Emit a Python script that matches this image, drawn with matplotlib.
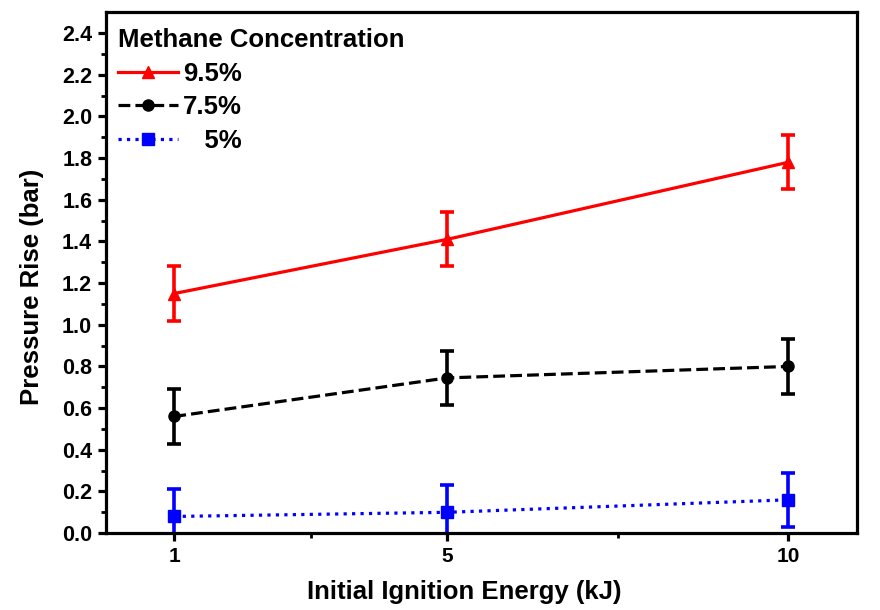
import matplotlib
matplotlib.use("Agg")
import matplotlib.pyplot as plt
from matplotlib.lines import Line2D
from matplotlib.ticker import FixedLocator

plt.rcParams['font.family'] = ['Liberation Sans', 'DejaVu Sans']
plt.rcParams['font.weight'] = 'bold'

# Initial ignition energy (kJ)
energy = [1, 5, 10]

# Pressure rise (bar) for each methane concentration
p_95 = [1.15, 1.41, 1.78]
p_75 = [0.56, 0.745, 0.80]
p_50 = [0.08, 0.10, 0.16]

# Error bar half-widths (bar)
err_95 = [0.13, 0.13, 0.13]
err_75 = [0.13, 0.13, 0.13]
err_50 = [0.13, 0.13, 0.13]

labels = ['9.5%', '7.5%', '   5%']
x_ticks = [1, 5, 10]
x_minor = [3, 7.5]

fig = plt.figure(figsize=(8.8, 6.1), dpi=100)
ax = fig.add_axes([0.1205, 0.126, 0.853, 0.854])

series = [
    (p_95, err_95, 'red', '-', '^', labels[0]),
    (p_75, err_75, 'black', '--', 'o', labels[1]),
    (p_50, err_50, 'blue', ':', 's', labels[2]),
]
handles = []
for vals, err, col, ls, mk, lab in series:
    ax.errorbar(energy, vals, yerr=err, color=col, ls=ls, lw=2.3,
                marker=mk, ms=8, mec=col, mfc=col,
                elinewidth=2.6, capsize=4.8, capthick=2.6)
    handles.append(Line2D([], [], color=col, ls=ls, lw=2.3, marker=mk,
                          ms=8, mec=col, mfc=col, label=lab))

ax.set_xlim(0, 11)
ax.set_ylim(0, 2.5)
ax.set_xticks(x_ticks)
ax.set_xticklabels([str(v) for v in x_ticks])
ax.xaxis.set_minor_locator(FixedLocator(x_minor))
ax.set_yticks([i * 0.2 for i in range(13)])
ax.set_yticklabels([f"{i * 0.2:.1f}" for i in range(13)])
ax.yaxis.set_minor_locator(FixedLocator([0.1 + i * 0.2 for i in range(12)]))

for s in ax.spines.values():
    s.set_linewidth(2.3)
ax.tick_params(axis='both', which='major', direction='out', length=6,
               width=2.3, labelsize=15, pad=4)
ax.tick_params(axis='y', which='major', labelsize=15.5)
ax.tick_params(axis='both', which='minor', direction='out', length=3.5,
               width=2.0)

ax.set_xlabel('Initial Ignition Energy (kJ)', fontsize=18.5, fontweight='bold',
              labelpad=10, x=0.477)
ax.set_ylabel('Pressure Rise (bar)', fontsize=18.5, fontweight='bold',
              labelpad=13, y=0.472)

leg = ax.legend(handles=handles, loc='upper left', bbox_to_anchor=(0.0, 0.992),
                title='Methane Concentration', frameon=False,
                fontsize=18.5, title_fontproperties={'weight': 'bold', 'size': 18.5},
                alignment='left', handlelength=2.35, handletextpad=0.2,
                labelspacing=0.38, borderaxespad=0.15, borderpad=0.3)

fig.savefig('out.png', dpi=100)
